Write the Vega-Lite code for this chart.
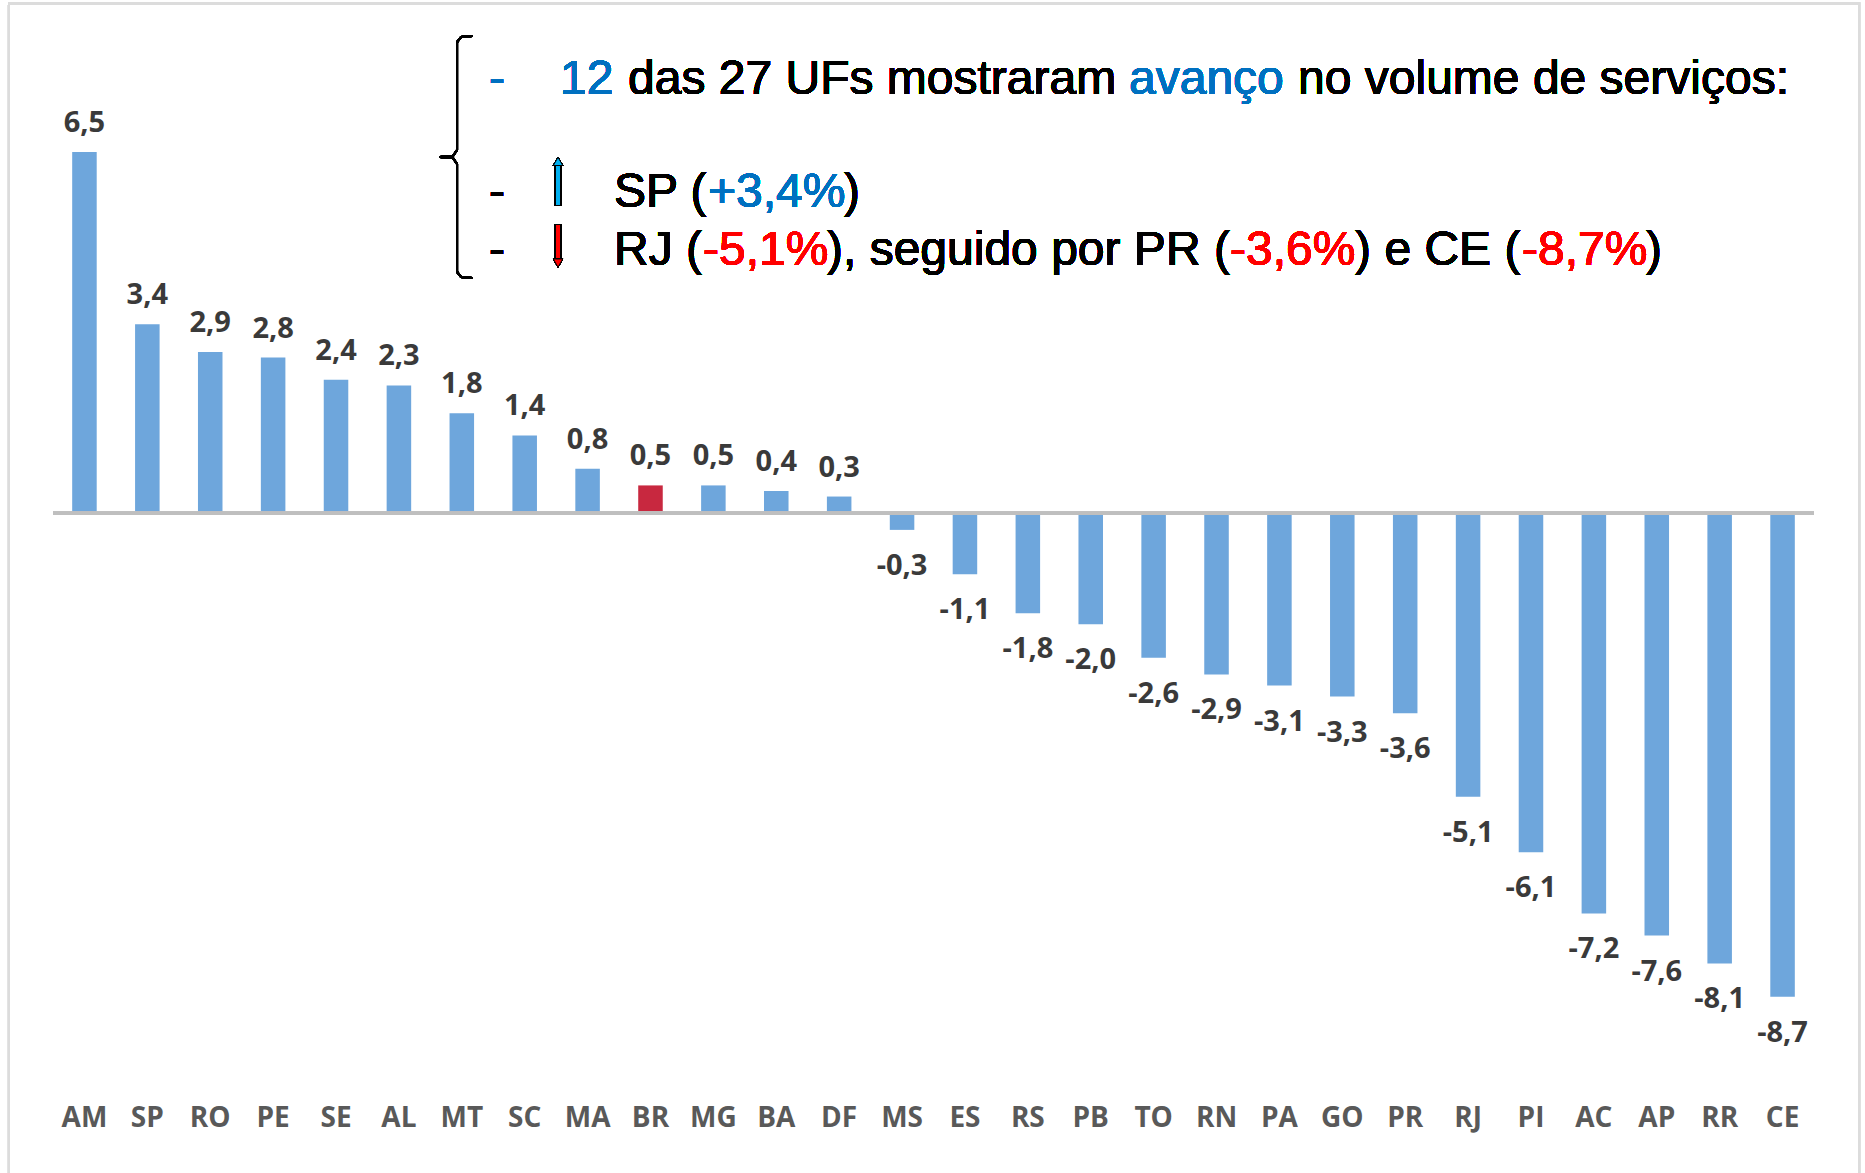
{
  "$schema": "https://vega.github.io/schema/vega-lite/v6.json",
  "width": 1761,
  "height": 1056,
  "autosize": "none",
  "padding": {"left": 53, "top": 13, "right": 51, "bottom": 104},
  "background": "white",
  "config": {
    "view": {"stroke": null},
    "locale": {"number": {"decimal": ",", "thousands": ".", "grouping": [3], "currency": ["R$", ""], "minus": "-"}}
  },
  "data": {"values": [
    {"uf": "AM", "v": 6.5}, {"uf": "SP", "v": 3.4}, {"uf": "RO", "v": 2.9}, {"uf": "PE", "v": 2.8},
    {"uf": "SE", "v": 2.4}, {"uf": "AL", "v": 2.3}, {"uf": "MT", "v": 1.8}, {"uf": "SC", "v": 1.4},
    {"uf": "MA", "v": 0.8}, {"uf": "BR", "v": 0.5}, {"uf": "MG", "v": 0.5}, {"uf": "BA", "v": 0.4},
    {"uf": "DF", "v": 0.3}, {"uf": "MS", "v": -0.3}, {"uf": "ES", "v": -1.1}, {"uf": "RS", "v": -1.8},
    {"uf": "PB", "v": -2.0}, {"uf": "TO", "v": -2.6}, {"uf": "RN", "v": -2.9}, {"uf": "PA", "v": -3.1},
    {"uf": "GO", "v": -3.3}, {"uf": "PR", "v": -3.6}, {"uf": "RJ", "v": -5.1}, {"uf": "PI", "v": -6.1},
    {"uf": "AC", "v": -7.2}, {"uf": "AP", "v": -7.6}, {"uf": "RR", "v": -8.1}, {"uf": "CE", "v": -8.7}
  ]},
  "layer": [
    {
      "encoding": {
        "x": {"field": "uf", "type": "nominal", "sort": null,
              "scale": {"paddingInner": 0.61, "paddingOuter": 0.305},
              "axis": {"title": null, "labelAngle": 0, "domain": false, "ticks": false, "tickSize": 0,
                       "labelPadding": 35, "labelFont": "Open Sans", "labelFontWeight": "bold",
                       "labelFontSize": 28, "labelColor": "#595959"}},
        "y": {"field": "v", "type": "quantitative",
              "scale": {"domain": [-10, 9], "nice": false, "zero": false}, "axis": null}
      },
      "layer": [
        {"mark": {"type": "bar"},
         "encoding": {"color": {"condition": {"test": "datum.uf === 'BR'", "value": "#c8283f"}, "value": "#6ea6dc"}}},
        {"mark": {"type": "rule", "color": "#bfbfbf", "strokeWidth": 3},
         "encoding": {"y": {"datum": 0, "type": "quantitative"}, "x": null}},
        {"transform": [{"filter": "datum.v >= 0"}],
         "mark": {"type": "text", "baseline": "alphabetic", "dy": -20, "font": "Open Sans", "fontWeight": "bold", "fontSize": 29, "color": "#3a3a3a"},
         "encoding": {"text": {"field": "v", "type": "quantitative", "format": ".1f"}}},
        {"transform": [{"filter": "datum.v < 0"}],
         "mark": {"type": "text", "baseline": "alphabetic", "dy": 45, "font": "Open Sans", "fontWeight": "bold", "fontSize": 29, "color": "#3a3a3a"},
         "encoding": {"text": {"field": "v", "type": "quantitative", "format": ".1f"}}}
      ]
    },
    {
      "layer": [
        {"mark": {"type": "rect", "filled": false, "stroke": "#dcdcdc", "strokeWidth": 2},
         "encoding": {"x": {"datum": -0.7, "type": "quantitative", "scale": {"domain": [0, 28], "nice": false, "zero": false}, "axis": null},
                      "x2": {"datum": 28.717}, "y": {"datum": 9.176, "type": "quantitative"}, "y2": {"datum": -12}}},

        {"mark": {"type": "rule", "color": "black", "strokeWidth": 2, "strokeCap": "round"},
         "encoding": {"x": {"datum": 6.662, "type": "quantitative", "scale": {"domain": [0, 28], "nice": false, "zero": false}, "axis": null}, "x2": {"datum": 6.487}, "y": {"datum": 8.586, "type": "quantitative"}, "y2": {"datum": 8.568}}},
        {"mark": {"type": "rule", "color": "black", "strokeWidth": 2, "strokeCap": "round"},
         "encoding": {"x": {"datum": 6.487, "type": "quantitative", "scale": {"domain": [0, 28], "nice": false, "zero": false}, "axis": null}, "x2": {"datum": 6.424}, "y": {"datum": 8.568, "type": "quantitative"}, "y2": {"datum": 8.478}}},
        {"mark": {"type": "rule", "color": "black", "strokeWidth": 2, "strokeCap": "round"},
         "encoding": {"x": {"datum": 6.424, "type": "quantitative", "scale": {"domain": [0, 28], "nice": false, "zero": false}, "axis": null}, "x2": {"datum": 6.424}, "y": {"datum": 8.478, "type": "quantitative"}, "y2": {"datum": 6.536}}},
        {"mark": {"type": "rule", "color": "black", "strokeWidth": 2, "strokeCap": "round"},
         "encoding": {"x": {"datum": 6.424, "type": "quantitative", "scale": {"domain": [0, 28], "nice": false, "zero": false}, "axis": null}, "x2": {"datum": 6.36}, "y": {"datum": 6.536, "type": "quantitative"}, "y2": {"datum": 6.428}}},
        {"mark": {"type": "rule", "color": "black", "strokeWidth": 2, "strokeCap": "round"},
         "encoding": {"x": {"datum": 6.36, "type": "quantitative", "scale": {"domain": [0, 28], "nice": false, "zero": false}, "axis": null}, "x2": {"datum": 6.154}, "y": {"datum": 6.428, "type": "quantitative"}, "y2": {"datum": 6.41}}},
        {"mark": {"type": "rule", "color": "black", "strokeWidth": 2, "strokeCap": "round"},
         "encoding": {"x": {"datum": 6.154, "type": "quantitative", "scale": {"domain": [0, 28], "nice": false, "zero": false}, "axis": null}, "x2": {"datum": 6.36}, "y": {"datum": 6.41, "type": "quantitative"}, "y2": {"datum": 6.392}}},
        {"mark": {"type": "rule", "color": "black", "strokeWidth": 2, "strokeCap": "round"},
         "encoding": {"x": {"datum": 6.36, "type": "quantitative", "scale": {"domain": [0, 28], "nice": false, "zero": false}, "axis": null}, "x2": {"datum": 6.424}, "y": {"datum": 6.392, "type": "quantitative"}, "y2": {"datum": 6.284}}},
        {"mark": {"type": "rule", "color": "black", "strokeWidth": 2, "strokeCap": "round"},
         "encoding": {"x": {"datum": 6.424, "type": "quantitative", "scale": {"domain": [0, 28], "nice": false, "zero": false}, "axis": null}, "x2": {"datum": 6.424}, "y": {"datum": 6.284, "type": "quantitative"}, "y2": {"datum": 4.341}}},
        {"mark": {"type": "rule", "color": "black", "strokeWidth": 2, "strokeCap": "round"},
         "encoding": {"x": {"datum": 6.424, "type": "quantitative", "scale": {"domain": [0, 28], "nice": false, "zero": false}, "axis": null}, "x2": {"datum": 6.487}, "y": {"datum": 4.341, "type": "quantitative"}, "y2": {"datum": 4.251}}},
        {"mark": {"type": "rule", "color": "black", "strokeWidth": 2, "strokeCap": "round"},
         "encoding": {"x": {"datum": 6.487, "type": "quantitative", "scale": {"domain": [0, 28], "nice": false, "zero": false}, "axis": null}, "x2": {"datum": 6.662}, "y": {"datum": 4.251, "type": "quantitative"}, "y2": {"datum": 4.233}}},

        {"mark": {"type": "rule", "color": "black", "strokeWidth": 7},
         "encoding": {"x": {"datum": 8.03, "type": "quantitative", "scale": {"domain": [0, 28], "nice": false, "zero": false}, "axis": null}, "y": {"datum": 6.30, "type": "quantitative"}, "y2": {"datum": 5.528}}},
        {"mark": {"type": "rule", "color": "#00b0f0", "strokeWidth": 4},
         "encoding": {"x": {"datum": 8.03, "type": "quantitative", "scale": {"domain": [0, 28], "nice": false, "zero": false}, "axis": null}, "y": {"datum": 6.29, "type": "quantitative"}, "y2": {"datum": 5.56}}},
        {"mark": {"type": "point", "shape": "triangle-up", "filled": true, "color": "#00b0f0", "stroke": "black", "strokeWidth": 1, "size": 90, "opacity": 1},
         "encoding": {"x": {"datum": 8.03, "type": "quantitative", "scale": {"domain": [0, 28], "nice": false, "zero": false}, "axis": null}, "y": {"datum": 6.33, "type": "quantitative"}}},
        {"mark": {"type": "rule", "color": "black", "strokeWidth": 7},
         "encoding": {"x": {"datum": 8.03, "type": "quantitative", "scale": {"domain": [0, 28], "nice": false, "zero": false}, "axis": null}, "y": {"datum": 5.2, "type": "quantitative"}, "y2": {"datum": 4.52}}},
        {"mark": {"type": "rule", "color": "#ff0000", "strokeWidth": 4},
         "encoding": {"x": {"datum": 8.03, "type": "quantitative", "scale": {"domain": [0, 28], "nice": false, "zero": false}, "axis": null}, "y": {"datum": 5.17, "type": "quantitative"}, "y2": {"datum": 4.53}}},
        {"mark": {"type": "point", "shape": "triangle-down", "filled": true, "color": "#ff0000", "stroke": "black", "strokeWidth": 1, "size": 90, "opacity": 1},
         "encoding": {"x": {"datum": 8.03, "type": "quantitative", "scale": {"domain": [0, 28], "nice": false, "zero": false}, "axis": null}, "y": {"datum": 4.50, "type": "quantitative"}}},

        {"mark": {"type": "text", "text": "-", "align": "left", "baseline": "alphabetic", "font": "Liberation Sans", "fontWeight": "normal", "fontSize": 48, "color": "#0070c0"},
         "encoding": {"x": {"datum": 6.933, "type": "quantitative", "scale": {"domain": [0, 28], "nice": false, "zero": false}, "axis": null}, "y": {"datum": 7.542, "type": "quantitative"}}},
        {"mark": {"type": "text", "text": "12", "align": "left", "baseline": "alphabetic", "font": "Liberation Sans", "fontWeight": "normal", "fontSize": 48, "color": "#0070c0"},
         "encoding": {"x": {"datum": 8.062, "type": "quantitative", "scale": {"domain": [0, 28], "nice": false, "zero": false}, "axis": null}, "y": {"datum": 7.542, "type": "quantitative"}}},
        {"mark": {"type": "text", "text": "das 27 UFs mostraram", "align": "left", "baseline": "alphabetic", "font": "Liberation Sans", "fontWeight": "normal", "fontSize": 48, "color": "black"},
         "encoding": {"x": {"datum": 9.143, "type": "quantitative", "scale": {"domain": [0, 28], "nice": false, "zero": false}, "axis": null}, "y": {"datum": 7.542, "type": "quantitative"}}},
        {"mark": {"type": "text", "text": "avanço", "align": "left", "baseline": "alphabetic", "font": "Liberation Sans", "fontWeight": "normal", "fontSize": 48, "color": "#0070c0"},
         "encoding": {"x": {"datum": 17.109, "type": "quantitative", "scale": {"domain": [0, 28], "nice": false, "zero": false}, "axis": null}, "y": {"datum": 7.542, "type": "quantitative"}}},
        {"mark": {"type": "text", "text": "no volume de serviços:", "align": "left", "baseline": "alphabetic", "font": "Liberation Sans", "fontWeight": "normal", "fontSize": 48, "color": "black"},
         "encoding": {"x": {"datum": 19.797, "type": "quantitative", "scale": {"domain": [0, 28], "nice": false, "zero": false}, "axis": null}, "y": {"datum": 7.542, "type": "quantitative"}}},

        {"mark": {"type": "text", "text": "-", "align": "left", "baseline": "alphabetic", "font": "Liberation Sans", "fontWeight": "normal", "fontSize": 48, "color": "black"},
         "encoding": {"x": {"datum": 6.933, "type": "quantitative", "scale": {"domain": [0, 28], "nice": false, "zero": false}, "axis": null}, "y": {"datum": 5.51, "type": "quantitative"}}},
        {"mark": {"type": "text", "text": "SP (", "align": "left", "baseline": "alphabetic", "font": "Liberation Sans", "fontWeight": "normal", "fontSize": 48, "color": "black"},
         "encoding": {"x": {"datum": 8.92, "type": "quantitative", "scale": {"domain": [0, 28], "nice": false, "zero": false}, "axis": null}, "y": {"datum": 5.51, "type": "quantitative"}}},
        {"mark": {"type": "text", "text": "+3,4%", "align": "left", "baseline": "alphabetic", "font": "Liberation Sans", "fontWeight": "normal", "fontSize": 48, "color": "#0070c0"},
         "encoding": {"x": {"datum": 10.415, "type": "quantitative", "scale": {"domain": [0, 28], "nice": false, "zero": false}, "axis": null}, "y": {"datum": 5.51, "type": "quantitative"}}},
        {"mark": {"type": "text", "text": ")", "align": "left", "baseline": "alphabetic", "font": "Liberation Sans", "fontWeight": "normal", "fontSize": 48, "color": "black"},
         "encoding": {"x": {"datum": 12.577, "type": "quantitative", "scale": {"domain": [0, 28], "nice": false, "zero": false}, "axis": null}, "y": {"datum": 5.51, "type": "quantitative"}}},

        {"mark": {"type": "text", "text": "-", "align": "left", "baseline": "alphabetic", "font": "Liberation Sans", "fontWeight": "normal", "fontSize": 48, "color": "black"},
         "encoding": {"x": {"datum": 6.933, "type": "quantitative", "scale": {"domain": [0, 28], "nice": false, "zero": false}, "axis": null}, "y": {"datum": 4.465, "type": "quantitative"}}},
        {"mark": {"type": "text", "text": "RJ (", "align": "left", "baseline": "alphabetic", "font": "Liberation Sans", "fontWeight": "normal", "fontSize": 48, "color": "black"},
         "encoding": {"x": {"datum": 8.92, "type": "quantitative", "scale": {"domain": [0, 28], "nice": false, "zero": false}, "axis": null}, "y": {"datum": 4.465, "type": "quantitative"}}},
        {"mark": {"type": "text", "text": "-5,1%", "align": "left", "baseline": "alphabetic", "font": "Liberation Sans", "fontWeight": "normal", "fontSize": 48, "color": "#ff0000"},
         "encoding": {"x": {"datum": 10.335, "type": "quantitative", "scale": {"domain": [0, 28], "nice": false, "zero": false}, "axis": null}, "y": {"datum": 4.465, "type": "quantitative"}}},
        {"mark": {"type": "text", "text": "), seguido por PR (", "align": "left", "baseline": "alphabetic", "font": "Liberation Sans", "fontWeight": "normal", "fontSize": 48, "color": "black"},
         "encoding": {"x": {"datum": 12.307, "type": "quantitative", "scale": {"domain": [0, 28], "nice": false, "zero": false}, "axis": null}, "y": {"datum": 4.465, "type": "quantitative"}}},
        {"mark": {"type": "text", "text": "-3,6%", "align": "left", "baseline": "alphabetic", "font": "Liberation Sans", "fontWeight": "normal", "fontSize": 48, "color": "#ff0000"},
         "encoding": {"x": {"datum": 18.715, "type": "quantitative", "scale": {"domain": [0, 28], "nice": false, "zero": false}, "axis": null}, "y": {"datum": 4.465, "type": "quantitative"}}},
        {"mark": {"type": "text", "text": ") e CE (", "align": "left", "baseline": "alphabetic", "font": "Liberation Sans", "fontWeight": "normal", "fontSize": 48, "color": "black"},
         "encoding": {"x": {"datum": 20.703, "type": "quantitative", "scale": {"domain": [0, 28], "nice": false, "zero": false}, "axis": null}, "y": {"datum": 4.465, "type": "quantitative"}}},
        {"mark": {"type": "text", "text": "-8,7%", "align": "left", "baseline": "alphabetic", "font": "Liberation Sans", "fontWeight": "normal", "fontSize": 48, "color": "#ff0000"},
         "encoding": {"x": {"datum": 23.358, "type": "quantitative", "scale": {"domain": [0, 28], "nice": false, "zero": false}, "axis": null}, "y": {"datum": 4.465, "type": "quantitative"}}},
        {"mark": {"type": "text", "text": ")", "align": "left", "baseline": "alphabetic", "font": "Liberation Sans", "fontWeight": "normal", "fontSize": 48, "color": "black"},
         "encoding": {"x": {"datum": 25.33, "type": "quantitative", "scale": {"domain": [0, 28], "nice": false, "zero": false}, "axis": null}, "y": {"datum": 4.465, "type": "quantitative"}}}
      ]
    }
  ],
  "resolve": {"scale": {"x": "independent"}}
}
